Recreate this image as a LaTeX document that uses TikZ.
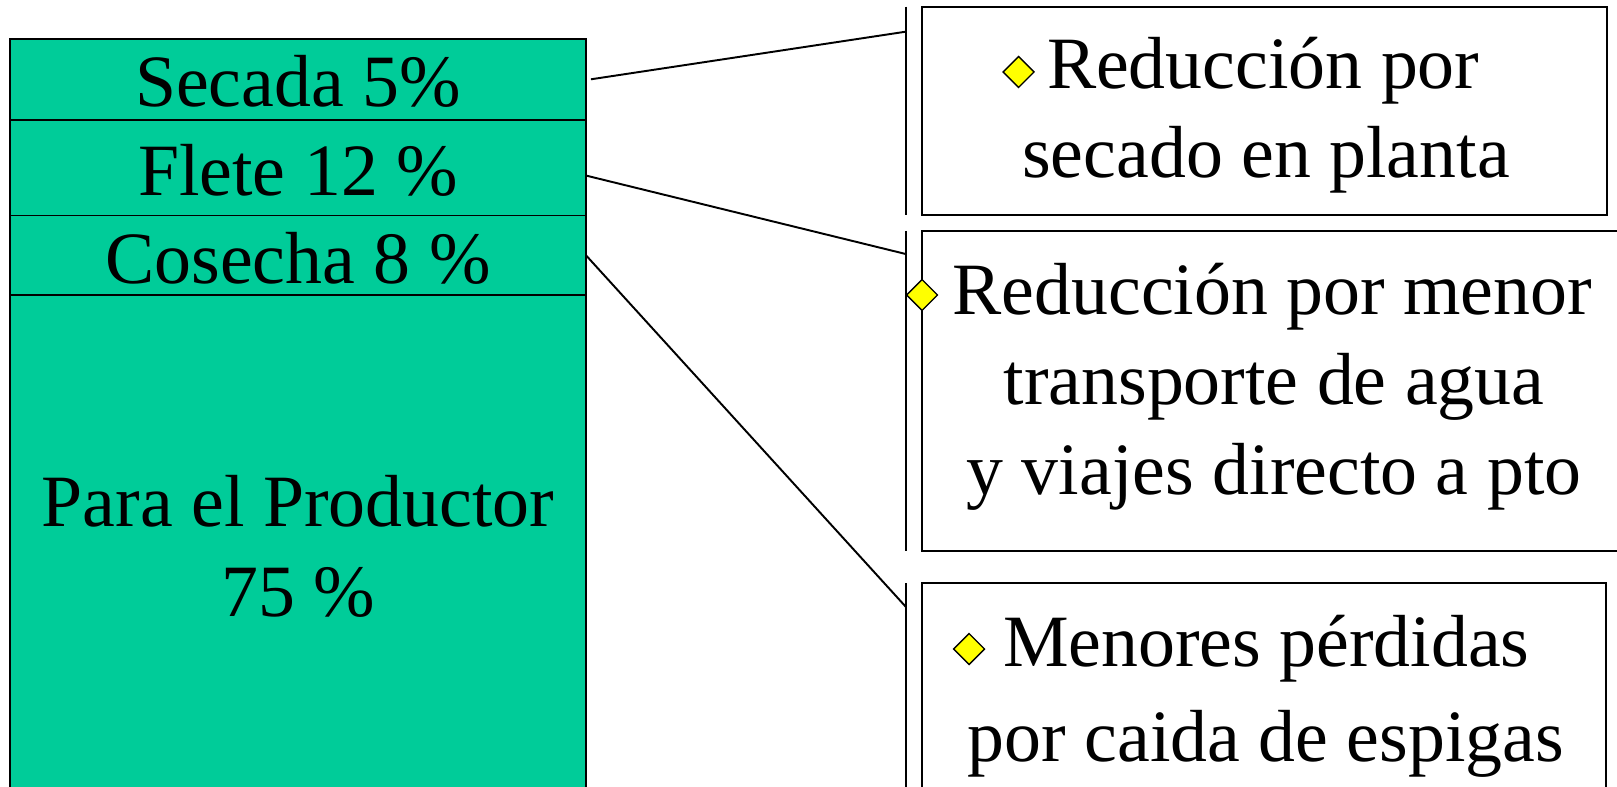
\documentclass[tikz,border=0pt]{standalone}
\usepackage{fontspec}
\setmainfont{Liberation Serif}
\usetikzlibrary{shapes.geometric}
\definecolor{stackgreen}{RGB}{0,204,153}
\definecolor{bulletyellow}{RGB}{255,255,0}
\begin{document}
\begin{tikzpicture}[x=0.02cm, y=-0.02cm,
    every node/.style={inner sep=0, outer sep=0},
    seg/.style={draw, fill=stackgreen, line width=1.1pt, minimum width=11.52cm},
    note/.style={draw, line width=1.1pt},
    txt/.style={font=\fontsize{42}{50}\selectfont, anchor=base},
    bul/.style={draw, diamond, fill=bulletyellow, line width=0.8pt, minimum width=0.62cm, minimum height=0.62cm},
    bar/.style={line width=1.3pt},
    link/.style={line width=1.1pt}]
  \useasboundingbox (0,0) rectangle (1617,787);
  % cost stack
  \node [seg, minimum height=1.612cm] (secada) at (298,79.3) {};
  \node [seg, minimum height=1.918cm] (flete) at (298,167.55) {};
  \node [seg, minimum height=1.59cm] (cosecha) at (298,255.25) {};
  \node [seg, minimum height=10.2cm] (productor) at (298,550) {};
  \node [txt] (secadatxt) at (298,107) {Secada 5\%};
  \node [txt] (fletetxt) at (298,195.7) {Flete 12 \%};
  \node [txt] (cosechatxt) at (298,284) {Cosecha 8 \%};
  \node [txt] (productortxt) at (298,526) {Para el Productor};
  \node [txt] (productorpct) at (298,616.7) {75 \%};
  % notes
  \node [note, minimum width=13.71cm, minimum height=4.166cm] (b1) at (1264.25,110.85) {};
  \node [note, minimum width=14.17cm, minimum height=6.4cm] (b2) at (1275.75,391) {};
  \node [note, minimum width=13.69cm, minimum height=4.34cm] (b3) at (1263.75,691.5) {};
  \node [bul] (bul1) at (1018.5,72) {};
  \node [bul] (bul2) at (922,295) {};
  \node [bul] (bul3) at (969,649) {};
  \node [txt, anchor=base west] (b1a) at (1047,89) {Reducción por};
  \node [txt] (b1b) at (1266,178) {secado en planta};
  \node [txt, anchor=base west] (b2a) at (952.6,314.3) {Reducción por menor};
  \node [txt] (b2b) at (1274,404) {transporte de agua};
  \node [txt] (b2c) at (1274,494) {y viajes directo a pto};
  \node [txt, anchor=base west] (b3a) at (1003,666) {Menores pérdidas};
  \node [txt] (b3b) at (1266,761.7) {por caida de espigas};
  % bars beside the notes
  \coordinate (bar1top) at (905.7,6.7);
  \coordinate (bar1bot) at (905.7,215);
  \coordinate (bar2top) at (905.7,231);
  \coordinate (bar2bot) at (905.7,551);
  \coordinate (bar3top) at (905.7,583);
  \coordinate (bar3bot) at (905.7,800);
  \draw[bar] (bar1top) -- (bar1bot);
  \draw[bar] (bar2top) -- (bar2bot);
  \draw[bar] (bar3top) -- (bar3bot);
  \coordinate (end1) at (905.7,31.7);
  \coordinate (end2) at (905.7,254);
  \coordinate (end3) at (905.7,606.7);
  \draw[link] ([xshift=0.1cm]secada.east) -- (end1);
  \draw[link] ([yshift=-0.16cm]flete.east) -- (end2);
  \draw[link] (cosecha.east) -- (end3);
\end{tikzpicture}
\end{document}
